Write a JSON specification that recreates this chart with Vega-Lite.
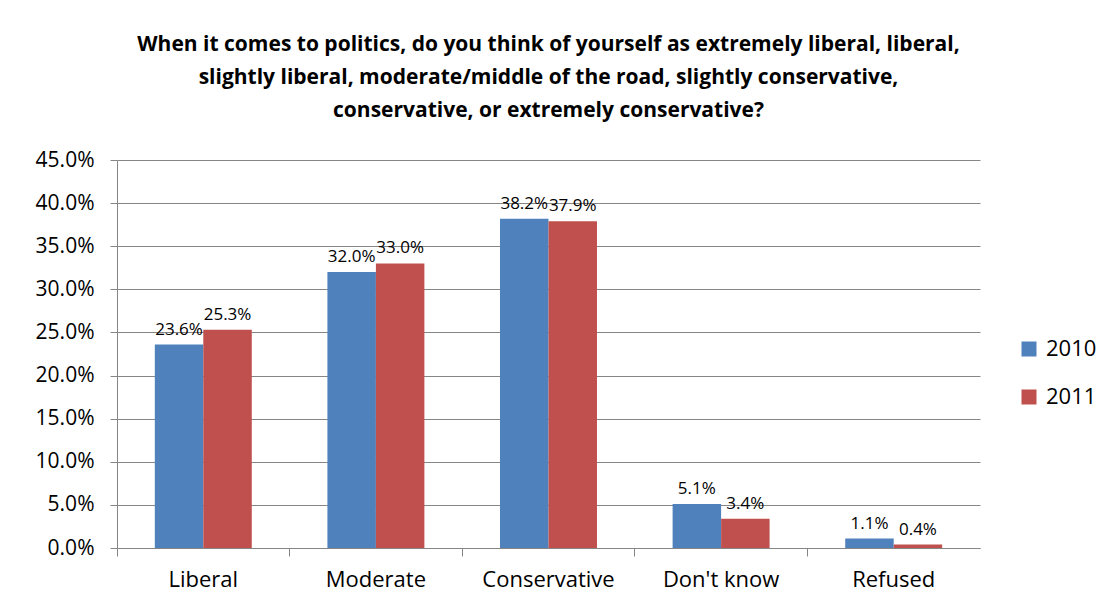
{
  "$schema": "https://vega.github.io/schema/vega-lite/v6.json",
  "autosize": {"type": "none"},
  "width": 863,
  "height": 388,
  "padding": {"left": 117, "top": 160, "right": 132, "bottom": 60},
  "background": "white",
  "title": {
    "text": ["When it comes to politics, do you think of yourself as extremely liberal, liberal,", "slightly liberal, moderate/middle of the road, slightly conservative,", "conservative, or extremely conservative?"],
    "font": "Open Sans",
    "fontSize": 21,
    "fontWeight": "bold",
    "color": "black",
    "lineHeight": 33,
    "anchor": "middle",
    "offset": 28
  },
  "data": {
    "values": [
      {"category": "Liberal", "year": "2010", "value": 0.236},
      {"category": "Liberal", "year": "2011", "value": 0.253},
      {"category": "Moderate", "year": "2010", "value": 0.320},
      {"category": "Moderate", "year": "2011", "value": 0.330},
      {"category": "Conservative", "year": "2010", "value": 0.382},
      {"category": "Conservative", "year": "2011", "value": 0.379},
      {"category": "Don't know", "year": "2010", "value": 0.051},
      {"category": "Don't know", "year": "2011", "value": 0.034},
      {"category": "Refused", "year": "2010", "value": 0.011},
      {"category": "Refused", "year": "2011", "value": 0.004}
    ]
  },
  "encoding": {
    "xOffset": {"field": "year", "type": "nominal", "scale": {"paddingInner": 0, "paddingOuter": 0.78}},
    "y": {
      "field": "value", "type": "quantitative",
      "scale": {"domain": [0, 0.45]},
      "axis": {"title": null, "format": ".1%", "values": [0, 0.05, 0.1, 0.15, 0.2, 0.25, 0.3, 0.35, 0.4, 0.45], "labelFont": "Open Sans", "labelFontSize": 21, "labelColor": "black", "tickColor": "#868686", "tickSize": 7, "labelPadding": 16, "domainColor": "#868686", "gridColor": "#868686", "grid": true}
    }
  },
  "layer": [
    {
      "mark": {"type": "bar"},
      "encoding": {
        "x": {
          "field": "category", "type": "nominal", "sort": null,
          "scale": {"paddingInner": 0, "paddingOuter": 0},
          "axis": {"title": null, "orient": "bottom", "labelAngle": 0, "labelFont": "Open Sans", "labelFontSize": 22, "labelColor": "black", "ticks": false, "labelPadding": 21, "domainColor": "#868686"}
        },
        "color": {
          "field": "year", "type": "nominal",
          "scale": {"domain": ["2010", "2011"], "range": ["#4F81BD", "#C0504D"]},
          "legend": {"title": null, "orient": "none", "legendX": 901, "legendY": 178, "symbolType": "square", "symbolSize": 225, "labelFont": "Open Sans", "labelFontSize": 22, "labelColor": "black", "rowPadding": 26, "labelOffset": 6, "symbolStrokeWidth": 0}
        }
      }
    },
    {
      "mark": {"type": "text", "baseline": "bottom", "dy": -6, "font": "Open Sans", "fontSize": 17, "color": "black"},
      "encoding": {
        "x": {
          "field": "category", "type": "nominal", "sort": null,
          "axis": {"title": null, "orient": "bottom", "labels": false, "domain": false, "grid": false, "ticks": true, "bandPosition": 0, "tickSize": 8, "tickColor": "#868686"}
        },
        "text": {"field": "value", "type": "quantitative", "format": ".1%"}
      }
    }
  ],
  "resolve": {"axis": {"x": "independent"}},
  "config": {"view": {"stroke": null}}
}
